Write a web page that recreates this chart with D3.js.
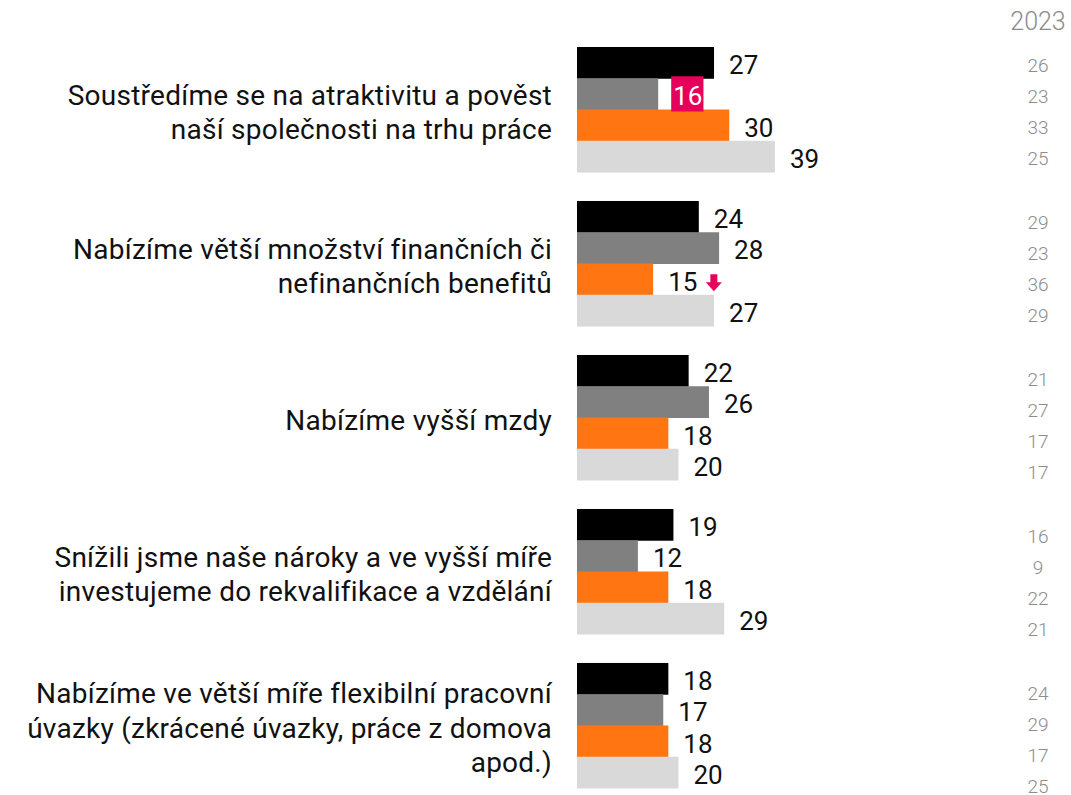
<!DOCTYPE html>
<html>
<head>
<meta charset="utf-8">
<script src="https://cdn.jsdelivr.net/npm/d3@7"></script>
<style>
  html, body { margin: 0; padding: 0; background: #fff; }
  svg { display: block; font-family: Roboto, "Noto Sans", sans-serif; }
</style>
</head>
<body>
<svg id="chart" width="1071" height="795"></svg>
<script>
// ---- data ----
const categories = [
  ["Soustředíme se na atraktivitu a pověst", "naší společnosti na trhu práce"],
  ["Nabízíme větší množství finančních či", "nefinančních benefitů"],
  ["Nabízíme vyšší mzdy"],
  ["Snížili jsme naše nároky a ve vyšší míře", "investujeme do rekvalifikace a vzdělání"],
  ["Nabízíme ve větší míře flexibilní pracovní", "úvazky (zkrácené úvazky, práce z domova", "apod.)"]
];
const seriesNames = ["s1", "s2", "s3", "s4"];
const seriesColors = ["#000000", "#808080", "#ff7512", "#d9d9d9"];
const values = [
  [27, 16, 30, 39],
  [24, 28, 15, 27],
  [22, 26, 18, 20],
  [19, 12, 18, 29],
  [18, 17, 18, 20]
];
const prevYearLabel = "2023";
const prevValues = [
  [26, 23, 33, 25],
  [29, 23, 36, 29],
  [21, 27, 17, 17],
  [16, 9, 22, 21],
  [24, 29, 17, 25]
];
// highlighted labels: [group, series, kind]
const highlights = [
  [0, 1, "box"],
  [1, 2, "down"]
];
const accent = "#e6005c";

// ---- layout ----
const svg = d3.select("#chart");
const groupIdx = d3.range(categories.length);

const x = d3.scaleLinear().domain([0, 40]).range([577, 780]);
const yGroup = d3.scaleBand().domain(groupIdx).range([47, 788]).paddingInner(0.188).paddingOuter(0);
const ySeries = d3.scaleBand().domain(d3.range(seriesNames.length)).range([0, yGroup.bandwidth()]).padding(0);

// right column (previous year) scales
const yPrevGroup = d3.scalePoint().domain(groupIdx).range([65, 693]);
const yPrevSeries = d3.scalePoint().domain(d3.range(seriesNames.length)).range([0, 93.8]);

const valueFont = 26;
const catFont = 28;

// bars
const groups = svg.selectAll("g.grp").data(groupIdx).join("g")
  .attr("class", "grp")
  .attr("transform", g => `translate(0,${yGroup(g)})`);

groups.selectAll("rect").data(g => values[g].map((v, s) => ({g, s, v}))).join("rect")
  .attr("x", x(0))
  .attr("y", d => ySeries(d.s))
  .attr("width", d => x(d.v) - x(0))
  .attr("height", ySeries.bandwidth() + 0.5)
  .attr("fill", d => seriesColors[d.s]);

// value labels
const isHL = (g, s) => highlights.find(h => h[0] === g && h[1] === s);
const labels = groups.selectAll("text.val").data(g => values[g].map((v, s) => ({g, s, v}))).join("text")
  .attr("class", "val")
  .attr("x", d => x(d.v) + 15)
  .attr("y", d => ySeries(d.s) + ySeries.bandwidth() / 2 + 11.5)
  .attr("font-size", valueFont)
  .attr("fill", "#111")
  .text(d => d.v);

// highlights
labels.each(function(d) {
  const h = isHL(d.g, d.s);
  if (!h) return;
  const bb = this.getBBox();
  const parent = d3.select(this.parentNode);
  if (h[2] === "box") {
    parent.insert("rect", () => this)
      .attr("x", bb.x - 2)
      .attr("y", ySeries(d.s) - 2)
      .attr("width", bb.width + 3)
      .attr("height", ySeries.bandwidth() + 4)
      .attr("fill", accent);
    d3.select(this).attr("fill", "#fff");
  } else if (h[2] === "down") {
    const ax = bb.x + bb.width + 9;
    const ay = ySeries(d.s) + ySeries.bandwidth() / 2 - 5;
    parent.append("path")
      .attr("d", `M${ax + 4},${ay} h7 v8 h4.5 l-8,9 l-8,-9 h4.5 z`)
      .attr("fill", accent);
  }
});

// category labels
const lineH = 34.5;
svg.selectAll("text.cat").data(groupIdx).join("text")
  .attr("class", "cat")
  .attr("text-anchor", "end")
  .attr("font-size", catFont)
  .attr("letter-spacing", 0.25)
  .attr("fill", "#111")
  .each(function(g) {
    const lines = categories[g];
    const center = yGroup(g) + yGroup.bandwidth() / 2 + 2.5;
    const first = center - (lines.length - 1) * lineH / 2;
    d3.select(this).selectAll("tspan").data(lines).join("tspan")
      .attr("x", 552)
      .attr("y", (l, i) => first + i * lineH + 10)
      .text(l => l);
  });

// previous year column
svg.append("text")
  .attr("x", 1038)
  .attr("y", 30)
  .attr("text-anchor", "middle")
  .attr("font-size", 25)
  .attr("font-weight", 300)
  .attr("fill", "#8c8c8c")
  .text(prevYearLabel);

svg.selectAll("g.prev").data(groupIdx).join("g")
  .attr("class", "prev")
  .attr("transform", g => `translate(0,${yPrevGroup(g)})`)
  .selectAll("text").data(g => prevValues[g].map((v, s) => ({v, s}))).join("text")
  .attr("x", 1038)
  .attr("y", d => yPrevSeries(d.s) + 6.5)
  .attr("text-anchor", "middle")
  .attr("font-size", 19)
  .attr("font-weight", 300)
  .attr("fill", "#8c8c8c")
  .text(d => d.v);
</script>
</body>
</html>
